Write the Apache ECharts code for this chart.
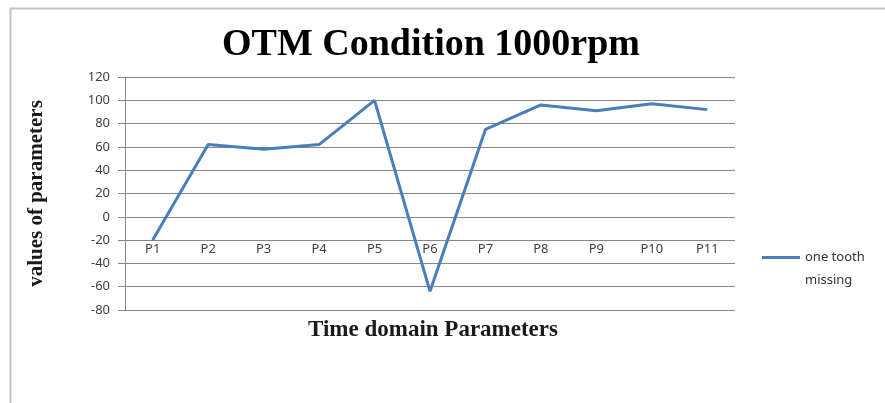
<!DOCTYPE html>
<html>
<head>
<meta charset="utf-8">
<script src="https://cdn.jsdelivr.net/npm/echarts@6/dist/echarts.min.js"></script>
<style>html,body{margin:0;padding:0;background:#fff;}#chart{width:885px;height:403px;}</style>
</head>
<body>
<div id="chart"></div>
<script>
const categories = ['P1','P2','P3','P4','P5','P6','P7','P8','P9','P10','P11'];
const oneToothMissing = [-20, 62, 58, 62, 100, -64, 75, 96, 91, 97, 92];
const seriesName = 'one tooth missing';
const yTicks = { min: -80, max: 120, interval: 20 };

const chart = echarts.init(document.getElementById('chart'), null, { renderer: 'canvas' });
chart.setOption({
  animation: false,
  backgroundColor: '#ffffff',
  graphic: [{
    type: 'rect', left: 8, top: 6,
    shape: { width: 900, height: 420 },
    style: { fill: 'none', stroke: '#c4c4c4', lineWidth: 2 },
    silent: true
  }],
  title: [{
    text: 'OTM Condition 1000rpm',
    left: 426, top: 21, textAlign: 'center',
    textStyle: { fontFamily: 'Liberation Serif', fontWeight: 'bold', fontSize: 38, color: '#000' }
  }, {
    text: 'Time domain Parameters',
    left: 428, top: 314, textAlign: 'center',
    textStyle: { fontFamily: 'Liberation Serif', fontWeight: 'bold', fontSize: 23, color: '#1a1a1a' }
  }],
  legend: {
    left: 757, top: 218,
    icon: 'rect', itemWidth: 38, itemHeight: 3,
    data: [seriesName],
    formatter: function () { return ' \none tooth\nmissing'; },
    textStyle: { fontFamily: 'Noto Sans', fontSize: 13, color: '#333', lineHeight: 23 }
  },
  grid: { left: 125, right: 150, top: 77, bottom: 93 },
  xAxis: {
    type: 'category', data: categories, boundaryGap: true,
    offset: -75,
    axisLine: { show: false }, axisTick: { show: false },
    axisLabel: { margin: 8, fontFamily: 'Noto Sans', fontSize: 13, color: '#404040' }
  },
  yAxis: {
    type: 'value', min: yTicks.min, max: yTicks.max, interval: yTicks.interval,
    name: 'values of parameters', nameLocation: 'middle', nameRotate: 90, nameGap: 78,
    nameTextStyle: { fontFamily: 'Liberation Serif', fontWeight: 'bold', fontSize: 21, color: '#1a1a1a' },
    axisLine: { show: true, lineStyle: { color: '#868686', width: 1 } },
    axisTick: { show: true, inside: false, length: 7, lineStyle: { color: '#868686' } },
    splitLine: { show: true, lineStyle: { color: '#868686', width: 1 } },
    axisLabel: { margin: 15, fontFamily: 'Noto Sans', fontSize: 13, color: '#404040' }
  },
  series: [{
    name: seriesName, type: 'line', data: oneToothMissing,
    showSymbol: false, symbol: 'none',
    lineStyle: { color: '#4a7ebb', width: 3 },
    itemStyle: { color: '#4a7ebb' }
  }]
});
</script>
</body>
</html>
